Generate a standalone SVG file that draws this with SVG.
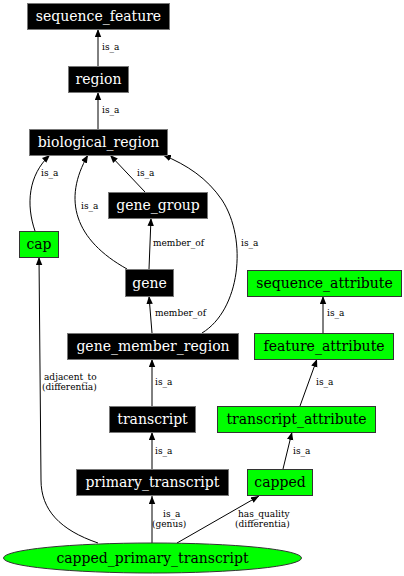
<svg xmlns="http://www.w3.org/2000/svg" width="404" height="576" viewBox="0 0 404 576">
<style>
.b rect{fill:#000;stroke:#777;stroke-width:1}
.g rect,.g ellipse{fill:#00ff00;stroke:#333;stroke-width:1}
.b text{fill:#fff}
text{font-family:"DejaVu Serif","Liberation Serif",serif;font-size:14px;text-anchor:middle}
.e path{fill:none;stroke:#000;stroke-width:1;marker-end:url(#ah)}
.e text{font-size:9px;text-anchor:start;fill:#000}
</style>
<defs>
<marker id="ah" viewBox="0 0 10 8" refX="10" refY="4" markerWidth="8" markerHeight="7" markerUnits="userSpaceOnUse" orient="auto">
<path d="M0,0 L10,4 L0,8 Z" fill="#000"/>
</marker>
</defs>
<rect width="404" height="576" fill="#fff"/>
<g class="e" id="edges">
<path d="M98,66 L98,29"/><text x="102" y="50">is_a</text>
<path d="M98,130 L98,92"/><text x="102" y="113">is_a</text>
<path d="M35,231 C26,205 28,175 50,155"/><text x="41" y="176">is_a</text>
<path d="M127,269 C75,240 62,200 88,155"/><text x="81" y="209">is_a</text>
<path d="M145,192 L110,155"/><text x="137" y="176">is_a</text>
<path d="M202,333 C240,310 248,240 222,200 C207,178 187,165 163,155"/><text x="241" y="246">is_a</text>
<path d="M149,269 L151,218"/><text x="153" y="246">member_of</text>
<path d="M152,333 L149,296"/><text x="155" y="316">member_of</text>
<path d="M152,406 L152,359"/><text x="155" y="385">is_a</text>
<path d="M152,469 L152,432"/><text x="155" y="454">is_a</text>
<path d="M152,543 L152,496"/><text x="163" y="517">is_a</text><text x="152" y="527">(genus)</text>
<path d="M177,543 L259,496"/><text x="238" y="517">has_quality</text><text x="235" y="527">(differentia)</text>
<path d="M98,543 C60,530 41,510 41,480 L39,257"/><text x="44" y="380">adjacent_to</text><text x="42" y="390">(differentia)</text>
<path d="M283,469 L292,432"/><text x="293" y="454">is_a</text>
<path d="M300,406 L317,359"/><text x="316" y="385">is_a</text>
<path d="M323,333 L323,296"/><text x="327" y="316">is_a</text>
</g>
<g id="sequence_feature" class="b"><rect x="27.5" y="3.5" width="142" height="26"/><text x="98.5" y="21">sequence_feature</text></g>
<g id="region" class="b"><rect x="68.5" y="66.5" width="60" height="26"/><text x="98.5" y="84">region</text></g>
<g id="biological_region" class="b"><rect x="29.5" y="129.5" width="138" height="26"/><text x="98.5" y="147">biological_region</text></g>
<g id="gene_group" class="b"><rect x="108.5" y="192.5" width="99" height="26"/><text x="158" y="210">gene_group</text></g>
<g id="cap" class="g"><rect x="19.5" y="231.5" width="39" height="26"/><text x="39" y="249">cap</text></g>
<g id="gene" class="b"><rect x="125.5" y="269.5" width="48" height="27"/><text x="149.5" y="288">gene</text></g>
<g id="gene_member_region" class="b"><rect x="67.5" y="333.5" width="171" height="26"/><text x="153" y="351">gene_member_region</text></g>
<g id="sequence_attribute" class="g"><rect x="247.5" y="270.5" width="154" height="26"/><text x="324.5" y="288">sequence_attribute</text></g>
<g id="feature_attribute" class="g"><rect x="254.5" y="333.5" width="139" height="26"/><text x="324" y="351">feature_attribute</text></g>
<g id="transcript" class="b"><rect x="109.5" y="406.5" width="86" height="26"/><text x="152.5" y="424">transcript</text></g>
<g id="transcript_attribute" class="g"><rect x="217.5" y="406.5" width="158" height="26"/><text x="296.5" y="424">transcript_attribute</text></g>
<g id="primary_transcript" class="b"><rect x="76.5" y="469.5" width="152" height="26"/><text x="152.5" y="487">primary_transcript</text></g>
<g id="capped" class="g"><rect x="247.5" y="469.5" width="65" height="26"/><text x="280" y="487">capped</text></g>
<g id="capped_primary_transcript" class="g"><ellipse cx="152.5" cy="558" rx="149" ry="15"/><text x="152.5" y="563">capped_primary_transcript</text></g>
</svg>
